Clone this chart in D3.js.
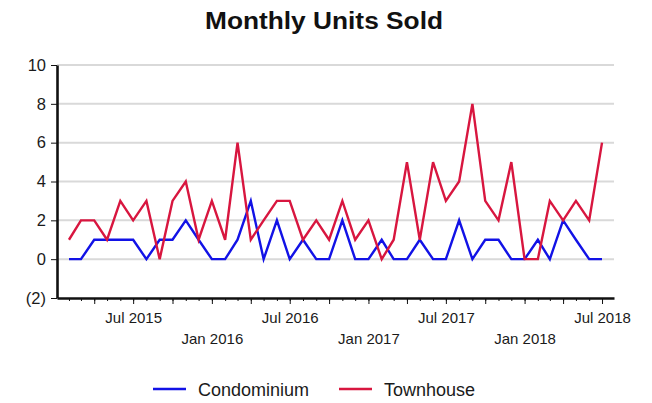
<!DOCTYPE html>
<meta charset="UTF-8">
<style>
    body { margin: 0; background: #fff; }
    text { font-family: "Liberation Sans", Arial, sans-serif; }
    .grid line { stroke: #d9d9d9; stroke-width: 2px; }
    .axis path, .axis line { stroke: #111; }
</style>
<body>
<div id="chart"></div>
<script src="https://d3js.org/d3.v7.min.js"></script>
<script>

// data: one value per month, Feb 2015 .. Jul 2018
var months = d3.timeMonth.range(new Date(2015, 1, 1), new Date(2018, 7, 1));
var condominium = [0,0,1,1,1,1,0,1,1,2,1,0,0,1,3,0,2,0,1,0,0,2,
                   0,0,1,0,0,1,0,0,2,0,1,1,0,0,1,0,2,1,0,0];
var townhouse   = [1,2,2,1,3,2,3,0,3,4,1,3,1,6,1,2,3,3,1,2,1,3,
                   1,2,0,1,5,1,5,3,4,8,3,2,5,0,0,3,2,3,2,6];
var yTicks = [-2, 0, 2, 4, 6, 8, 10];
var seriesNames = ["Condominium", "Townhouse"];
var seriesColors = ["#1212e6", "#d8163f"];

var width = 652, height = 403;
var margin = {top: 65, right: 38, bottom: 105, left: 57};

var svg = d3.select("#chart").append("svg")
    .attr("width", width)
    .attr("height", height);

// scales
var x = d3.scaleTime()
    .domain([new Date(2015, 0, 4), new Date(2018, 6, 29)])
    .range([margin.left, width - margin.right]);
var y = d3.scaleLinear()
    .domain([-2, 10])
    .range([height - margin.bottom, margin.top]);

// title
svg.append("text")
    .attr("x", 324)
    .attr("y", 28.5)
    .attr("text-anchor", "middle")
    .attr("font-size", 23)
    .attr("font-weight", "bold")
    .attr("textLength", 238)
    .attr("lengthAdjust", "spacingAndGlyphs")
    .attr("fill", "#111")
    .text("Monthly Units Sold");

// horizontal grid lines
svg.append("g")
    .attr("class", "grid")
  .selectAll("line")
    .data(yTicks.filter(function(d) { return d > -2; }))
  .enter().append("line")
    .attr("x1", margin.left)
    .attr("x2", width - margin.right)
    .attr("y1", function(d) { return y(d); })
    .attr("y2", function(d) { return y(d); });

// lines
var line = function(values) {
    return d3.line()
        .x(function(d, i) { return x(months[i]); })
        .y(function(d) { return y(d); })(values);
};

[condominium, townhouse].forEach(function(values, i) {
    svg.append("path")
        .attr("d", line(values))
        .attr("fill", "none")
        .attr("stroke", seriesColors[i])
        .attr("stroke-width", 2.4)
        .attr("stroke-linejoin", "miter");
});

// minor monthly ticks
svg.append("g")
    .attr("class", "axis")
    .attr("transform", "translate(0," + y(-2) + ")")
    .call(d3.axisBottom(x)
        .tickValues(d3.timeMonth.range(new Date(2015, 1, 1), new Date(2018, 6, 2)))
        .tickSize(3)
        .tickSizeOuter(0)
        .tickFormat(""))
    .call(function(g) { g.select(".domain").remove(); });

// major quarterly ticks with Jul / Jan labels on two rows
var xAxis = svg.append("g")
    .attr("class", "axis")
    .attr("transform", "translate(0," + y(-2) + ")")
    .call(d3.axisBottom(x)
        .tickValues(d3.timeMonth.every(3).range(new Date(2015, 3, 1), new Date(2018, 6, 2)))
        .tickSize(6)
        .tickSizeOuter(0)
        .tickFormat(function(d) {
            var m = d.getMonth();
            return (m === 0 || m === 6) ? d3.timeFormat("%b %Y")(d) : "";
        }));

xAxis.select(".domain").attr("stroke-width", 2.6);
xAxis.selectAll(".tick line").attr("stroke-width", 1);
xAxis.selectAll(".tick text")
    .attr("font-size", 15)
    .attr("fill", "#1a1a1a")
    .attr("dy", null)
    .attr("y", function(d) { return d.getMonth() === 0 ? 46 : 25; });

// y axis
var yAxis = svg.append("g")
    .attr("class", "axis")
    .attr("transform", "translate(" + margin.left + ",0)")
    .call(d3.axisLeft(y)
        .tickValues(yTicks)
        .tickSize(6)
        .tickSizeOuter(0)
        .tickFormat(function(d) { return d < 0 ? "(" + (-d) + ")" : d; }));

yAxis.select(".domain").attr("stroke-width", 2.6);
yAxis.selectAll(".tick text")
    .attr("font-size", 16.5)
    .attr("fill", "#1a1a1a")
    .attr("x", -11);

// legend
var legend = svg.append("g")
    .selectAll("g")
    .data(seriesNames)
  .enter().append("g")
    .attr("transform", function(d, i) { return "translate(" + [153, 339][i] + ",389)"; });

legend.append("line")
    .attr("x1", 0)
    .attr("x2", 33)
    .attr("stroke", function(d, i) { return seriesColors[i]; })
    .attr("stroke-width", 2.4);

legend.append("text")
    .attr("x", 45)
    .attr("y", 6.5)
    .attr("font-size", 18)
    .attr("fill", "#1a1a1a")
    .text(function(d) { return d; });

</script>
</body>
